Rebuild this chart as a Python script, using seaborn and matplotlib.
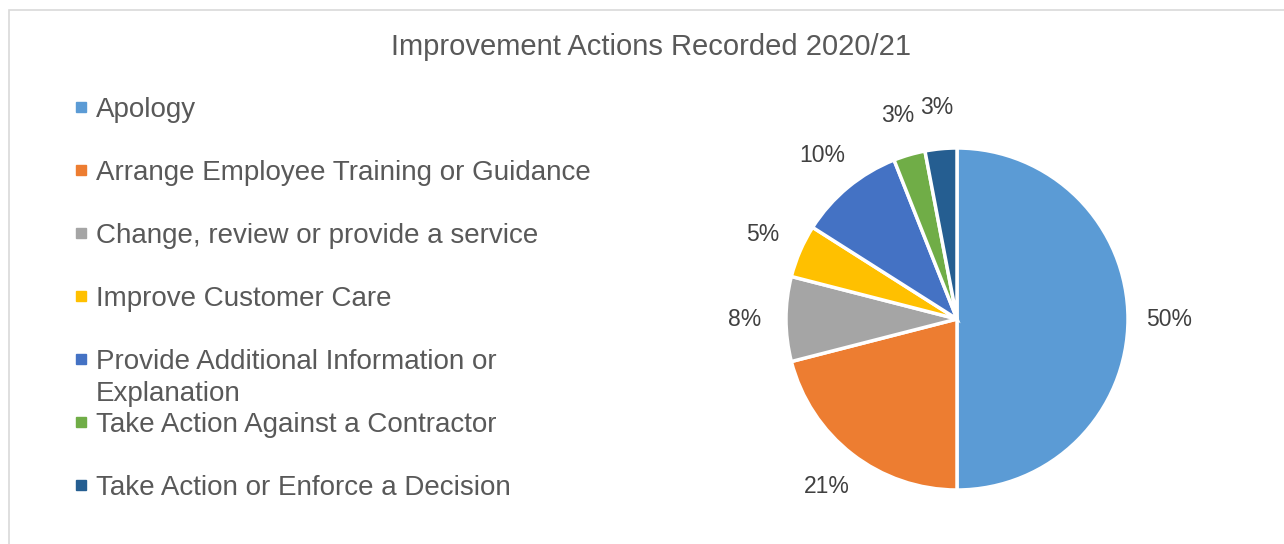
import matplotlib
matplotlib.use("Agg")
import matplotlib.pyplot as plt
import seaborn as sns
from matplotlib.lines import Line2D
from matplotlib.patches import Rectangle

# data
categories = [
    "Apology",
    "Arrange Employee Training or Guidance",
    "Change, review or provide a service",
    "Improve Customer Care",
    "Provide Additional Information or\nExplanation",
    "Take Action Against a Contractor",
    "Take Action or Enforce a Decision",
]
shares = [50, 21, 8, 5, 10, 3, 3]
colors = ["#5B9BD5", "#ED7D31", "#A5A5A5", "#FFC000", "#4472C4", "#70AD47", "#255E91"]
title = "Improvement Actions Recorded 2020/21"

sns.set_theme(style="white")
plt.rcParams["font.family"] = ["Liberation Sans", "DejaVu Sans"]

W, H = 1284, 544
fig = plt.figure(figsize=(W / 100, H / 100), dpi=100)

# light border around the chart area
fig.patches.append(Rectangle((9 / W, -0.5), 2, 0.5 + (H - 10) / H, transform=fig.transFigure,
                             fill=False, edgecolor="#D9D9D9", linewidth=1.2))

# pie
cx, cy, r = 957, 319, 171
lim = 1.3
side = 2 * lim * r
ax = fig.add_axes([(cx - side / 2) / W, (H - cy - side / 2) / H, side / W, side / H])
wedges, _, autotexts = ax.pie(
    shares, colors=colors, startangle=90, counterclock=False,
    wedgeprops=dict(edgecolor="white", linewidth=2.5),
    autopct=lambda p: f"{p:.0f}%", pctdistance=1.24,
    textprops=dict(fontsize=16.5, color="#404040"),
)
ax.set_xlim(-lim, lim)
ax.set_ylim(-lim, lim)
ax.set_aspect("equal")
ax.axis("off")

fig.text(651 / W, 1 - 47 / H, title, ha="center", va="center", fontsize=21, color="#595959")

# legend (first line of each name; wrapped remainder added below)
handles = [Line2D([], [], marker="s", linestyle="none", markersize=7.5,
                  markerfacecolor=c, markeredgecolor=c) for c in colors]
first_lines = [c.split("\n")[0] for c in categories]
leg = fig.legend(handles, first_lines, loc="upper left", bbox_to_anchor=(75 / W, 1 - 97 / H),
                 frameon=False, fontsize=20, labelcolor="#595959", handlelength=0.45,
                 handletextpad=0.3, labelspacing=1.33, borderpad=0, borderaxespad=0)

fig.canvas.draw()
for txt, name in zip(leg.get_texts(), categories):
    if "\n" in name:
        bb = txt.get_window_extent()
        fig.text(bb.x0 / W, (bb.y0 - 32) / H, name.split("\n", 1)[1], ha="left", va="bottom",
                 fontsize=20, color="#595959")

fig.savefig("out.png", dpi=100)
